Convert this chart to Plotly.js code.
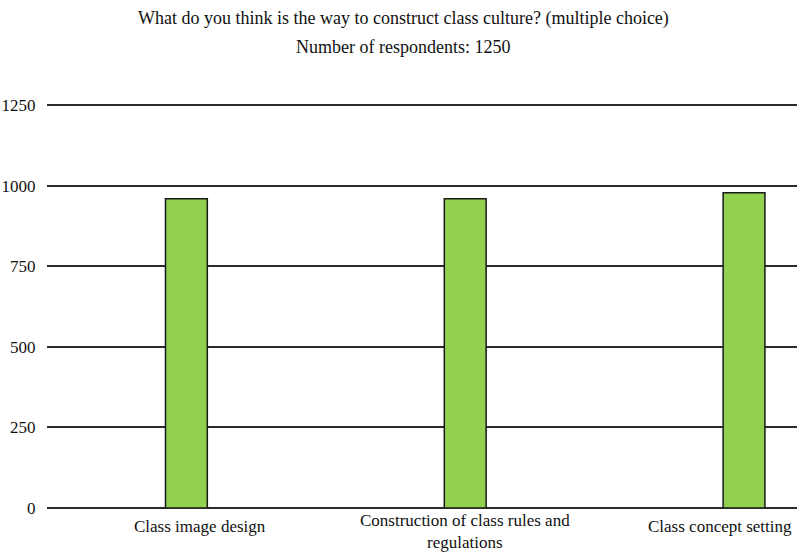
<!DOCTYPE html>
<html>
<head>
<meta charset="utf-8">
<script src="https://cdn.plot.ly/plotly-3.0.1.min.js"></script>
<style>html,body{margin:0;padding:0;background:#fff;}#chart{width:807px;height:554px;}</style>
</head>
<body>
<div id="chart"></div>
<script>
var categories = ["Class image design", "Construction of class rules and<br>regulations", "Class concept setting"];
var values = [960, 960, 978];
var tickValues = [0, 250, 500, 750, 1000, 1250];
var titleLine1 = "What do you think is the way to construct class culture? (multiple choice)";
var titleLine2 = "Number of respondents: 1250";

var FONT = "'Liberation Serif', 'Times New Roman', serif";
var FS = 17;
var FT = 18;
var labelShift = [14, 0, -24];
var labelYShift = [-7, -1, -7];

var xIdx = categories.map(function (c, i) { return i; });

var trace = {
  type: "bar",
  x: xIdx,
  y: values,
  width: 0.15,
  marker: {color: "#92D050", line: {color: "#1a1a1a", width: 1.5}},
  hoverinfo: "none"
};

var annotations = [
  {text: titleLine1, xref: "paper", yref: "paper", x: 0.475, y: 1, yshift: 84, xanchor: "center", yanchor: "middle", showarrow: false, font: {family: FONT, size: FT, color: "#111"}},
  {text: titleLine2, xref: "paper", yref: "paper", x: 0.475, y: 1, yshift: 55, xanchor: "center", yanchor: "middle", showarrow: false, font: {family: FONT, size: FT, color: "#111"}}
];
categories.forEach(function (c, i) {
  annotations.push({text: c, xref: "x", yref: "paper", x: i, y: 0, xshift: labelShift[i], yshift: labelYShift[i],
    xanchor: "center", yanchor: "top", showarrow: false, align: "center",
    font: {family: FONT, size: FS, color: "#111"}});
});

var layout = {
  width: 807, height: 554,
  margin: {l: 47, r: 10, t: 102, b: 46},
  paper_bgcolor: "#fff", plot_bgcolor: "#fff",
  font: {family: FONT, size: FS, color: "#111"},
  showlegend: false,
  bargap: 0,
  xaxis: {
    range: [-0.5, 2.19],
    showticklabels: false,
    showgrid: false,
    zeroline: false,
    showline: false,
    ticks: "",
    fixedrange: true
  },
  yaxis: {
    range: [0, 1260],
    tickmode: "array",
    tickvals: tickValues,
    ticktext: tickValues.map(String),
    showgrid: true,
    gridcolor: "#2a2a2a",
    gridwidth: 2,
    zeroline: true,
    zerolinecolor: "#2a2a2a",
    zerolinewidth: 2,
    showline: false,
    ticks: "outside",
    ticklen: 7,
    tickcolor: "rgba(0,0,0,0)",
    tickfont: {family: FONT, size: FS, color: "#111"},
    fixedrange: true
  },
  annotations: annotations
};

Plotly.newPlot("chart", [trace], layout, {staticPlot: true, displayModeBar: false});
</script>
</body>
</html>
